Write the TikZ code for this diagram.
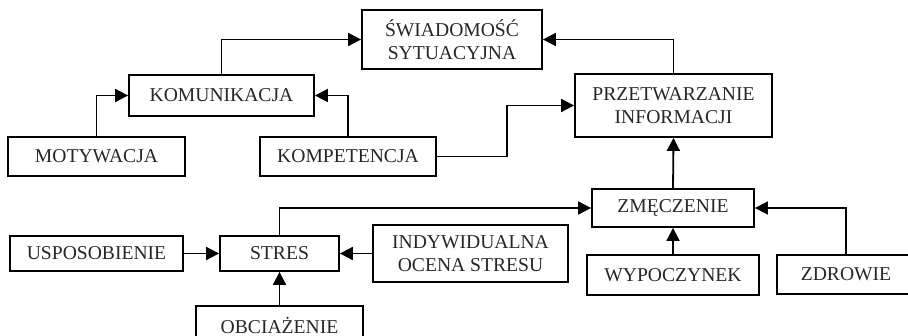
\documentclass[tikz,border=0pt]{standalone}
\usepackage{fontspec}
\setmainfont{Liberation Serif}
\usetikzlibrary{arrows.meta}
\tikzset{
  sabox/.style={draw, line width=0.9pt, rectangle, inner sep=0pt, align=center,
    font=\fontsize{9.8}{11.5}\selectfont, text=black!85},
  salink/.style={line width=0.9pt, -{Triangle[length=6.5pt,width=6.5pt]}}
}

\begin{document}
\begin{tikzpicture}[x=0.5pt,y=-0.5pt]
\useasboundingbox (0,0) rectangle (908,336);
\clip (0,0) rectangle (908,336);
\node[sabox, minimum width=90pt, minimum height=29.5pt] (swiad) at (452,39.5) {ŚWIADOMOŚĆ\\SYTUACYJNA};
\node[sabox, minimum width=92.5pt, minimum height=20.5pt] (komun) at (221.5,95.5) {KOMUNIKACJA};
\node[sabox, minimum width=88.5pt, minimum height=19.5pt] (motyw) at (96.5,156.5) {MOTYWACJA};
\node[sabox, minimum width=88pt, minimum height=19.5pt] (kompet) at (348,156.5) {KOMPETENCJA};
\node[sabox, minimum width=98.5pt, minimum height=31.5pt] (przetw) at (673.5,105.5) {PRZETWARZANIE\\INFORMACJI};
\node[sabox, minimum width=81pt, minimum height=19pt] (zmecz) at (673,208) {ZMĘCZENIE};
\node[sabox, minimum width=59.5pt, minimum height=17.5pt] (stres) at (279.5,253.5) {STRES};
\node[sabox, minimum width=86.5pt, minimum height=17.5pt] (uspos) at (96.5,253.5) {USPOSOBIENIE};
\node[sabox, minimum width=97.5pt, minimum height=28.5pt] (indyw) at (470.5,253.5) {INDYWIDUALNA\\OCENA STRESU};
\node[sabox, minimum width=83.5pt, minimum height=19.5pt] (obciaz) at (279.5,325.5) {OBCIAŻENIE};
\node[sabox, minimum width=86pt, minimum height=20pt] (wypocz) at (673,275) {WYPOCZYNEK};
\node[sabox, minimum width=69pt, minimum height=19.5pt] (zdrow) at (846,274.5) {ZDROWIE};
% connectors
\draw[salink] (komun.north) |- (swiad.west);
\draw[salink] (przetw.north) |- (swiad.east);
\draw[salink] (motyw.north) |- (komun.west);
\draw[salink] (kompet.north) |- (komun.east);
\draw[salink] (kompet.east) -- ++(70,0) |- (przetw.west);
\draw[salink] (zmecz.north) -- (przetw.south);
\draw[salink] (stres.north) |- (zmecz.west);
\draw[salink] (wypocz.north) -- (zmecz.south);
\draw[salink] (zdrow.north) |- (zmecz.east);
\draw[salink] (uspos.east) -- (stres.west);
\draw[salink] (indyw.west) -- (stres.east);
\draw[salink] (obciaz.north) -- (stres.south);
\end{tikzpicture}
\end{document}
